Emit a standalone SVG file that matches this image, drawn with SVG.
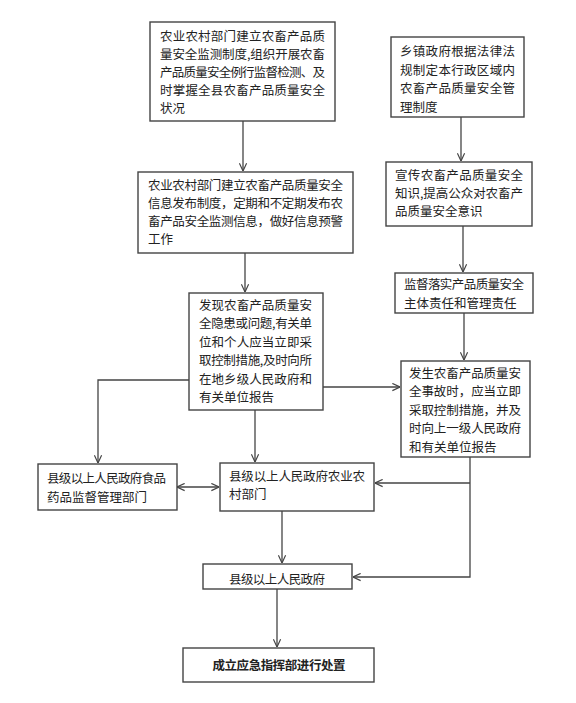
<svg xmlns="http://www.w3.org/2000/svg" width="576" height="703" viewBox="0 0 576 703">
<style>
.box{fill:#fff;stroke:#444;stroke-width:1.4}
.t{font-family:"Noto Sans CJK SC","Noto Sans CJK JP",sans-serif;font-size:12.5px;fill:#222}
.b{font-weight:bold}
.c{fill:none;stroke:#444;stroke-width:1.3}
</style>
<defs>
<marker id="ah" viewBox="0 0 10 10" refX="9.5" refY="5" markerWidth="9" markerHeight="9" markerUnits="userSpaceOnUse" orient="auto-start-reverse">
<path d="M1,1 L9.5,5 L1,9" fill="none" stroke="#444" stroke-width="1.3"/>
</marker>
</defs>
<rect width="576" height="703" fill="#fff"/>
<g id="n1">
<rect class="box" x="150" y="22" width="185" height="99"/>
<text class="t" x="160" y="40.5" textLength="165" lengthAdjust="spacing">农业农村部门建立农畜产品质</text>
<text class="t" x="160" y="58.5" textLength="165" lengthAdjust="spacing">量安全监测制度,组织开展农畜</text>
<text class="t" x="160" y="76.5" textLength="165" lengthAdjust="spacing">产品质量安全例行监督检测、及</text>
<text class="t" x="160" y="94.5" textLength="165" lengthAdjust="spacing">时掌握全县农畜产品质量安全</text>
<text class="t" x="160" y="112.5">状况</text>
</g>
<g id="n2">
<rect class="box" x="138" y="172" width="215" height="81"/>
<text class="t" x="148" y="189.5" textLength="195" lengthAdjust="spacing">农业农村部门建立农畜产品质量安全</text>
<text class="t" x="148" y="207.5" textLength="195" lengthAdjust="spacing">信息发布制度，定期和不定期发布农</text>
<text class="t" x="148" y="225.5" textLength="195" lengthAdjust="spacing">畜产品安全监测信息，做好信息预警</text>
<text class="t" x="148" y="244">工作</text>
</g>
<g id="n3">
<rect class="box" x="189" y="293" width="134" height="117"/>
<text class="t" x="199" y="309.5" textLength="113" lengthAdjust="spacing">发现农畜产品质量安</text>
<text class="t" x="199" y="328" textLength="113" lengthAdjust="spacing">全隐患或问题,有关单</text>
<text class="t" x="199" y="346.5" textLength="113" lengthAdjust="spacing">位和个人应当立即采</text>
<text class="t" x="199" y="365" textLength="113" lengthAdjust="spacing">取控制措施,及时向所</text>
<text class="t" x="199" y="383.5" textLength="113" lengthAdjust="spacing">在地乡级人民政府和</text>
<text class="t" x="199" y="402">有关单位报告</text>
</g>
<g id="n4">
<rect class="box" x="391" y="37" width="133" height="80"/>
<text class="t" x="400" y="56" textLength="115" lengthAdjust="spacing">乡镇政府根据法律法</text>
<text class="t" x="400" y="74.5" textLength="115" lengthAdjust="spacing">规制定本行政区域内</text>
<text class="t" x="400" y="93" textLength="115" lengthAdjust="spacing">农畜产品质量安全管</text>
<text class="t" x="400" y="111.5">理制度</text>
</g>
<g id="n5">
<rect class="box" x="386" y="162" width="146" height="64"/>
<text class="t" x="395" y="179.5" textLength="128" lengthAdjust="spacing">宣传农畜产品质量安全</text>
<text class="t" x="395" y="197.5" textLength="128" lengthAdjust="spacing">知识,提高公众对农畜产</text>
<text class="t" x="395" y="215.5">品质量安全意识</text>
</g>
<g id="n6">
<rect class="box" x="395" y="273" width="138" height="40"/>
<text class="t" x="404" y="289" textLength="120" lengthAdjust="spacing">监督落实产品质量安全</text>
<text class="t" x="404" y="307.5">主体责任和管理责任</text>
</g>
<g id="n7">
<rect class="box" x="401" y="361" width="129" height="96"/>
<text class="t" x="409" y="377.5" textLength="112" lengthAdjust="spacing">发生农畜产品质量安</text>
<text class="t" x="409" y="396" textLength="112" lengthAdjust="spacing">全事故时，应当立即</text>
<text class="t" x="409" y="414.5" textLength="112" lengthAdjust="spacing">采取控制措施，并及</text>
<text class="t" x="409" y="433" textLength="112" lengthAdjust="spacing">时向上一级人民政府</text>
<text class="t" x="409" y="451.5">和有关单位报告</text>
</g>
<g id="n8">
<rect class="box" x="38" y="464" width="139" height="46"/>
<text class="t" x="47" y="483" textLength="119" lengthAdjust="spacing">县级以上人民政府食品</text>
<text class="t" x="47" y="501.5">药品监督管理部门</text>
</g>
<g id="n9">
<rect class="box" x="220" y="463" width="154" height="48"/>
<text class="t" x="229" y="480.5" textLength="136" lengthAdjust="spacing">县级以上人民政府农业农</text>
<text class="t" x="229" y="499">村部门</text>
</g>
<g id="n10">
<rect class="box" x="203" y="564" width="149" height="25"/>
<text class="t" x="277" y="583.5" text-anchor="middle" textLength="96" lengthAdjust="spacing">县级以上人民政府</text>
</g>
<g id="n11">
<rect class="box" x="183" y="648" width="191" height="34"/>
<text class="t b" x="279" y="669.5" text-anchor="middle" textLength="133" lengthAdjust="spacing">成立应急指挥部进行处置</text>
</g>
<g id="connectors">
<path class="c" d="M243,121 V171" marker-end="url(#ah)"/>
<path class="c" d="M245,253 V292" marker-end="url(#ah)"/>
<path class="c" d="M461,117 V161" marker-end="url(#ah)"/>
<path class="c" d="M463,226 V272" marker-end="url(#ah)"/>
<path class="c" d="M464,313 V360" marker-end="url(#ah)"/>
<path class="c" d="M323,387 H400" marker-end="url(#ah)"/>
<path class="c" d="M189,380 H98 V463" marker-end="url(#ah)"/>
<path class="c" d="M255,410 V462" marker-end="url(#ah)"/>
<path class="c" d="M177,487 H219" marker-start="url(#ah)" marker-end="url(#ah)"/>
<path class="c" d="M470,457 V577 H353" marker-end="url(#ah)"/>
<path class="c" d="M470,483 H375" marker-end="url(#ah)"/>
<path class="c" d="M282,511 V563" marker-end="url(#ah)"/>
<path class="c" d="M277,589 V647" marker-end="url(#ah)"/>
</g>
</svg>
